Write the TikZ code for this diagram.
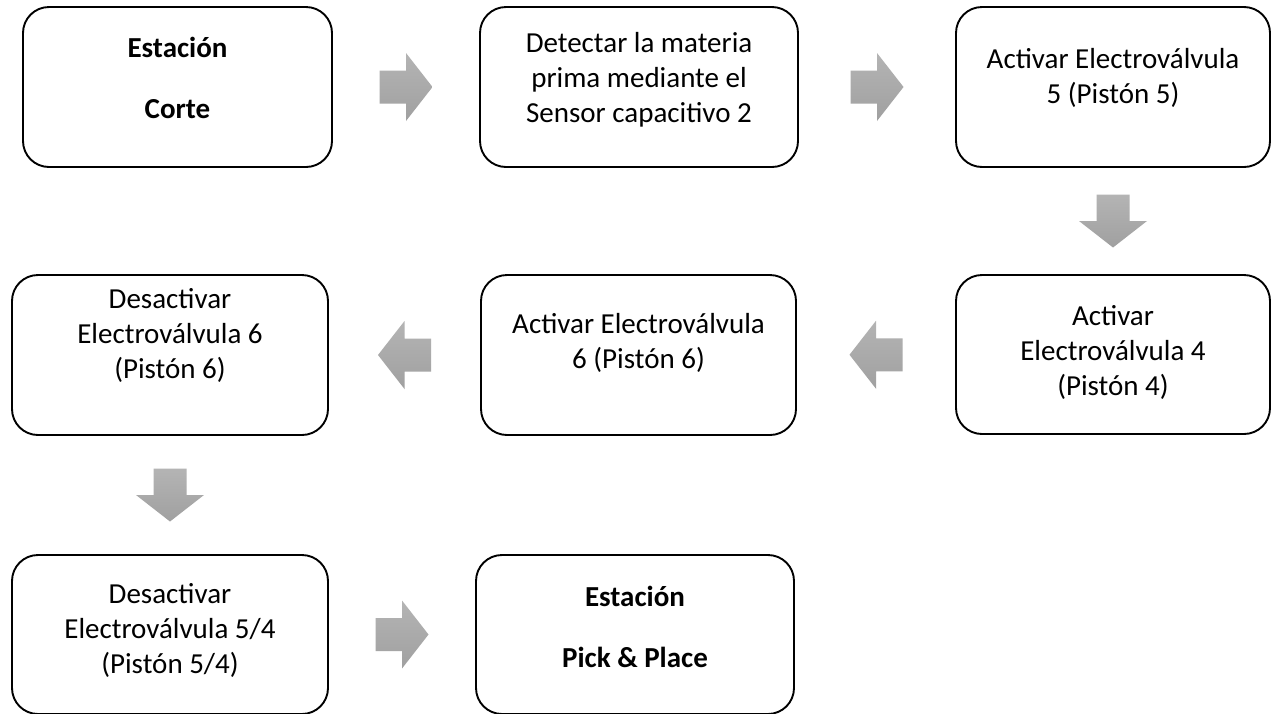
\documentclass[tikz,border=0pt]{standalone}
\usepackage{fontspec}
\setmainfont{Carlito}
\usetikzlibrary{calc}
\definecolor{arrowlight}{HTML}{B4B4B4}
\definecolor{arrowdark}{HTML}{A0A0A0}
\tikzset{
  stepbox/.style={draw=black, line width=1.9pt, rounded corners=26pt,
    inner sep=0pt, outer sep=0pt, minimum height=160pt},
  steptext/.style={align=center, inner sep=0pt, text=black,
    font=\fontsize{29}{35}\selectfont},
  stationtext/.style={steptext, font=\fontsize{29}{35}\selectfont\bfseries},
  arrowfill/.style={top color=arrowlight, bottom color=arrowdark, draw=none},
  pics/blockarr/.style={code={
    \path[arrowfill] (-26.5,-16.5) -- (0,-16.5) -- (0,-34) -- (26.5,0)
      -- (0,34) -- (0,16.5) -- (-26.5,16.5) -- cycle;}}
}
\begin{document}
\begin{tikzpicture}[x=1pt, y=-1pt]
\useasboundingbox[fill=white] (0,0) rectangle (1271,713);

% process steps
\node[stepbox, minimum width=309pt] (s1) at (177.5,87) {};
\node[stepbox, minimum width=318pt] (s2) at (639,87) {};
\node[stepbox, minimum width=314pt] (s3) at (1113,87) {};
\node[stepbox, minimum width=314pt, minimum height=159pt] (s4) at (1113,354.5) {};
\node[stepbox, minimum width=315pt] (s5) at (638.5,355) {};
\node[stepbox, minimum width=316pt] (s6) at (170,355) {};
\node[stepbox, minimum width=316pt, minimum height=159pt] (s7) at (170,634.5) {};
\node[stepbox, minimum width=318pt, minimum height=159pt] (s8) at (635,634.5) {};

% step texts
\node[stationtext] (t1) at ([yshift=9.5pt]s1.center) {Estación\\[26pt]Corte};
\node[steptext] (t2) at ([yshift=7pt]s2.center) {Detectar la materia\\prima mediante el\\Sensor capacitivo 2};
\node[steptext] (t3) at ([yshift=9.5pt]s3.center) {Activar Electroválvula\\5 (Pistón 5)};
\node[steptext] (t4) at ([yshift=2pt]s4.center) {Activar\\Electroválvula 4\\(Pistón 4)};
\node[steptext] (t5) at ([yshift=12.5pt]s5.center) {Activar Electroválvula\\6 (Pistón 6)};
\node[steptext] (t6) at ([yshift=20pt]s6.center) {Desactivar\\Electroválvula 6\\(Pistón 6)};
\node[steptext] (t7) at ([yshift=4.5pt]s7.center) {Desactivar\\Electroválvula 5/4\\(Pistón 5/4)};
\node[stationtext] (t8) at ([yshift=7.5pt]s8.center) {Estación\\[26pt]Pick \& Place};

% block arrows between consecutive steps
\pic at ($(s1.east)!0.5!(s2.west)$) {blockarr};
\pic at ($(s2.east)!0.5!(s3.west)$) {blockarr};
\pic[rotate=-90] at ($(s3.south)!0.5!(s4.north)$) {blockarr};
\pic[rotate=180] at ($(s4.west)!0.5!(s5.east)$) {blockarr};
\pic[rotate=180] at ($(s5.west)!0.5!(s6.east)$) {blockarr};
\pic[rotate=-90] at ($(s6.south)!0.5!(s7.north)$) {blockarr};
\pic at ($(s7.east)!0.5!(s8.west)$) {blockarr};
\end{tikzpicture}
\end{document}
